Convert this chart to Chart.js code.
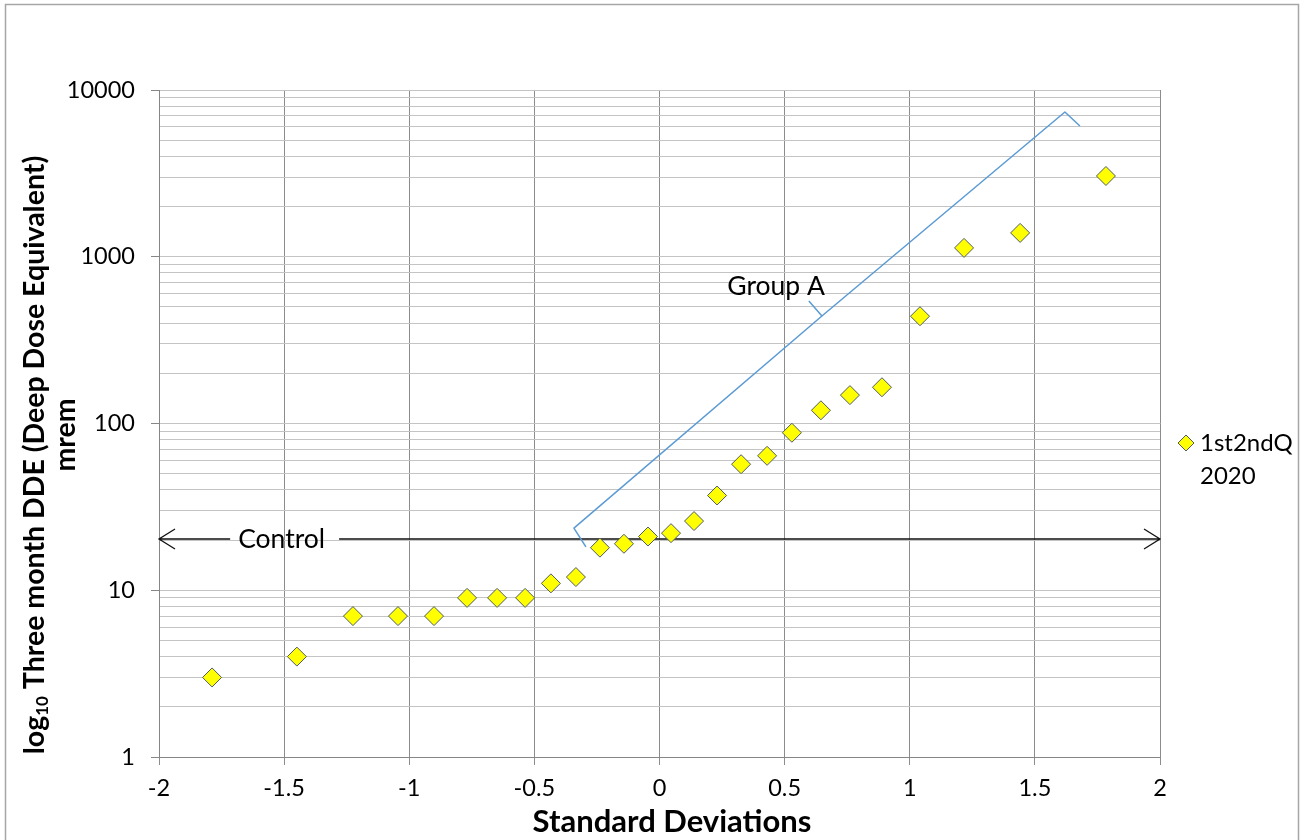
<!DOCTYPE html>
<html>
<head>
<meta charset="utf-8">
<script src="https://cdn.jsdelivr.net/npm/chart.js@4.4.0/dist/chart.umd.min.js"></script>
<style>
  body { margin: 0; background: #fff; }
  #wrap { width: 1304px; height: 840px; }
</style>
</head>
<body>
<div id="wrap"><canvas id="myChart" width="1304" height="840"></canvas></div>
<script>
// values
const sdValues = [-1.788, -1.449, -1.225, -1.045, -0.901, -0.769, -0.649, -0.537, -0.434, -0.334, -0.238, -0.142, -0.046,
                  0.046, 0.138, 0.230, 0.326, 0.430, 0.529, 0.645, 0.761, 0.889, 1.041, 1.217, 1.441, 1.784];
const doseValues = [3, 4, 7, 7, 7, 9, 9, 9, 11, 12, 18, 19, 21,
                    22, 26, 37, 57, 64, 88, 120, 148, 165, 440, 1130, 1390, 3050];
const seriesLabel = ['1st2ndQ', '2020'];
const xTicks = [-2, -1.5, -1, -0.5, 0, 0.5, 1, 1.5, 2];
const yDecades = [1, 10, 100, 1000, 10000];

// annotations (data coordinates)
const controlLevel = 20.3;
const controlLabel = 'Control';
const controlLabelX = -1.51;
const groupLabel = 'Group A';
const groupLabelAt = [0.466, 668];
const braceLow = [[-0.294, 18.2], [-0.342, 23.6], [0.649, 441], [0.597, 543]];
const braceHigh = [[0.649, 441], [1.620, 7380], [1.680, 6085]];

const FONT = 'Lato, "Liberation Sans", sans-serif';

// log grid: 1..9 in each decade
const yGrid = [];
yDecades.forEach(d => {
  if (d === 10000) { yGrid.push(d); return; }
  for (let k = 1; k < 10; k++) yGrid.push(d * k);
});

const annotations = {
  id: 'annotations',
  beforeDraw(chart) {
    const ctx = chart.ctx;
    ctx.save();
    ctx.fillStyle = '#fff';
    ctx.fillRect(0, 0, chart.width, chart.height);
    ctx.strokeStyle = '#a6a6a6';
    ctx.lineWidth = 1.5;
    ctx.strokeRect(5.5, 4.5, 1293, 860);
    ctx.restore();
  },
  beforeDatasetsDraw(chart) {
    const ctx = chart.ctx;
    const xs = chart.scales.x, ys = chart.scales.y;
    const px = v => xs.getPixelForValue(v), py = v => ys.getPixelForValue(v);
    ctx.save();
    // control double arrow
    const y = py(controlLevel);
    const x0 = px(-2), x1 = px(2);
    ctx.font = '26.5px ' + FONT;
    const tw = ctx.measureText(controlLabel).width;
    const cx = px(controlLabelX);
    ctx.strokeStyle = '#111';
    ctx.lineWidth = 1.3;
    ctx.beginPath();
    ctx.moveTo(x0, y); ctx.lineTo(cx - tw / 2 - 8, y);
    ctx.moveTo(cx + tw / 2 + 14, y); ctx.lineTo(x1, y);
    ctx.moveTo(x0 + 16, y - 10); ctx.lineTo(x0, y); ctx.lineTo(x0 + 16, y + 10);
    ctx.moveTo(x1 - 16, y - 10); ctx.lineTo(x1, y); ctx.lineTo(x1 - 16, y + 10);
    ctx.stroke();
    ctx.fillStyle = '#000';
    ctx.textAlign = 'center';
    ctx.textBaseline = 'middle';
    ctx.fillText(controlLabel, cx, y);
    // group A brace
    ctx.strokeStyle = '#5b9bd5';
    ctx.lineWidth = 1.5;
    ctx.lineJoin = 'round';
    [braceLow, braceHigh].forEach(p => {
      ctx.beginPath();
      p.forEach((q, i) => i ? ctx.lineTo(px(q[0]), py(q[1])) : ctx.moveTo(px(q[0]), py(q[1])));
      ctx.stroke();
    });
    ctx.fillText(groupLabel, px(groupLabelAt[0]), py(groupLabelAt[1]));
    ctx.restore();
  },
  afterDraw(chart) {
    const ctx = chart.ctx;
    const area = chart.chartArea;
    ctx.save();
    // legend
    const lx = area.right + 26, ly = 443, r = 8;
    ctx.beginPath();
    ctx.moveTo(lx - r, ly); ctx.lineTo(lx, ly - r); ctx.lineTo(lx + r, ly); ctx.lineTo(lx, ly + r); ctx.closePath();
    ctx.fillStyle = '#ffff00'; ctx.fill();
    ctx.strokeStyle = '#4f5b66'; ctx.lineWidth = 1; ctx.stroke();
    ctx.fillStyle = '#000';
    ctx.font = '24px ' + FONT;
    ctx.textAlign = 'left';
    ctx.textBaseline = 'middle';
    ctx.fillText(seriesLabel[0], lx + 14, ly);
    ctx.fillText(seriesLabel[1], lx + 14, ly + 33);
    // x axis title
    ctx.textAlign = 'center';
    ctx.font = 'bold 31px ' + FONT;
    ctx.fillText('Standard Deviations', 672, 822);
    // y axis title
    ctx.translate(35, 455);
    ctx.rotate(-Math.PI / 2);
    const big = 'bold 28.5px ' + FONT, small = 'bold 17px ' + FONT;
    const p1 = 'log', p2 = '10', p3 = ' Three month DDE (Deep Dose Equivalent)';
    ctx.font = big; const w1 = ctx.measureText(p1).width, w3 = ctx.measureText(p3).width;
    ctx.font = small; const w2 = ctx.measureText(p2).width;
    let s = -(w1 + w2 + w3) / 2;
    ctx.textAlign = 'left';
    ctx.font = big; ctx.fillText(p1, s, 0);
    ctx.font = small; ctx.fillText(p2, s + w1, 8);
    ctx.font = big; ctx.fillText(p3, s + w1 + w2, 0);
    ctx.textAlign = 'center';
    ctx.fillText('mrem', 20, 31);
    ctx.restore();
  }
};

const ctx = document.getElementById('myChart');
const PLOT = new Chart(ctx, {
  type: 'scatter',
  data: {
    datasets: [{
      label: seriesLabel.join(' '),
      data: sdValues.map((x, i) => ({ x: x, y: doseValues[i] })),
      pointStyle: 'rectRot',
      pointRadius: 9.5,
      pointHoverRadius: 9.5,
      backgroundColor: '#ffff00',
      borderColor: '#4f5b66',
      borderWidth: 1
    }]
  },
  options: {
    responsive: false,
    animation: false,
    layout: { padding: { top: 90, right: 144, bottom: 0, left: 0 } },
    plugins: { legend: { display: false }, tooltip: { enabled: false } },
    scales: {
      x: {
        type: 'linear',
        min: -2,
        max: 2,
        afterBuildTicks: s => { s.ticks = xTicks.map(v => ({ value: v })); },
        afterFit: s => { s.height = 83; },
        ticks: { callback: v => String(v), padding: 9, color: '#000', maxRotation: 0, font: { family: FONT, size: 23.5 } },
        grid: { color: '#8c8c8c', tickLength: 8, tickColor: '#8c8c8c' },
        border: { color: '#868686' }
      },
      y: {
        type: 'logarithmic',
        min: 1,
        max: 10000,
        afterBuildTicks: s => { s.ticks = yGrid.map(v => ({ value: v })); },
        afterFit: s => { s.width = 159; },
        ticks: {
          autoSkip: false,
          padding: 16,
          color: '#000',
          font: { family: FONT, size: 23.5 },
          callback: v => yDecades.includes(v) ? String(v) : ''
        },
        grid: {
          color: '#c4c4c4',
          tickLength: 8,
          tickColor: c => yDecades.includes(c.tick.value) ? '#868686' : 'rgba(0,0,0,0)'
        },
        border: { color: '#868686' }
      }
    }
  },
  plugins: [annotations]
});
</script>
</body>
</html>
